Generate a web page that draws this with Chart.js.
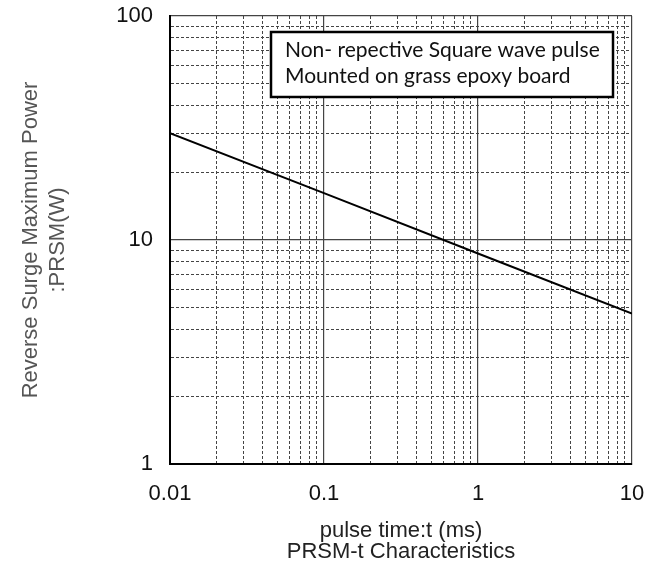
<!DOCTYPE html>
<html>
<head>
<meta charset="utf-8">
<script src="https://cdn.jsdelivr.net/npm/chart.js@4.4.0/dist/chart.umd.min.js"></script>
<style>
  html, body { margin: 0; padding: 0; background: #fff; }
  #wrap { width: 661px; height: 574px; }
</style>
</head>
<body>
<div id="wrap"><canvas id="prsm" width="661" height="574"></canvas></div>
<script>
// pulse time t (ms) and PRSM (W)
var pulseTime = [0.01, 0.1, 1, 10]
var prsmWatts = [30, 16.2, 8.7, 4.7]

// decade tick labels
var xTickLabels = [0.01, 0.1, 1, 10]
var yTickLabels = [1, 10, 100]

var noteLines = ['Non- repective Square wave pulse', 'Mounted on grass epoxy board']

var points = []
for (var i = 0; i < pulseTime.length; i++) {
  points.push({ x: pulseTime[i], y: prsmWatts[i] })
}

// 1..9 x 10^n between the first and last decade
function logTicks(decades) {
  var out = []
  for (var d = 0; d < decades.length - 1; d++) {
    for (var m = 1; m < 10; m++) {
      out.push({ value: +(decades[d] * m).toPrecision(3) })
    }
  }
  out.push({ value: decades[decades.length - 1] })
  return out
}

function isDecade(v, decades) {
  for (var k = 0; k < decades.length; k++) {
    if (Math.abs(v - decades[k]) < decades[k] * 1e-6) return true
  }
  return false
}

var noteBox = {
  id: 'noteBox',
  afterDraw: function (chart) {
    var ctx = chart.ctx
    var area = chart.chartArea
    var x = area.left + 101
    var y = area.top + 16
    var w = 342
    var h = 65
    ctx.save()
    ctx.fillStyle = '#fff'
    ctx.fillRect(x, y, w, h)
    ctx.lineWidth = 2.5
    ctx.strokeStyle = '#000'
    ctx.strokeRect(x, y, w, h)
    ctx.fillStyle = '#111'
    ctx.font = '21px Lato'
    ctx.textBaseline = 'alphabetic'
    ctx.fillText(noteLines[0], x + 14, y + 25)
    ctx.fillText(noteLines[1], x + 14, y + 51)
    ctx.restore()
  }
}

new Chart(document.getElementById('prsm'), {
  type: 'scatter',
  data: {
    datasets: [{
      data: points,
      showLine: true,
      borderColor: '#000',
      borderWidth: 2,
      pointRadius: 0,
      tension: 0
    }]
  },
  options: {
    responsive: false,
    animation: false,
    layout: { padding: { top: 16, right: 29, left: 0, bottom: 0 } },
    plugins: { legend: { display: false }, tooltip: { enabled: false } },
    scales: {
      x: {
        type: 'logarithmic',
        min: 0.01,
        max: 10,
        afterBuildTicks: function (scale) { scale.ticks = logTicks(xTickLabels) },
        afterFit: function (scale) {
          scale.height = 110
          scale.paddingLeft = 0
          scale.paddingRight = 0
        },
        ticks: {
          autoSkip: false,
          maxRotation: 0,
          padding: 17,
          color: '#111',
          font: { family: 'Liberation Sans', size: 22 },
          callback: function (v) { return isDecade(v, xTickLabels) ? String(v) : '' }
        },
        grid: {
          drawTicks: false,
          color: '#444',
          lineWidth: function (c) { return c.tick && isDecade(c.tick.value, xTickLabels) ? 1.2 : 1 }
        },
        border: {
          display: true,
          color: '#000',
          width: 2,
          dash: function (c) { return c.tick && isDecade(c.tick.value, xTickLabels) ? [] : [3, 2] }
        },
        title: {
          display: true,
          text: ['pulse time:t (ms)', 'PRSM-t Characteristics'],
          color: '#222',
          font: { family: 'Liberation Sans', size: 22, lineHeight: 0.98 },
          padding: { top: 0, bottom: 11 }
        }
      },
      y: {
        type: 'logarithmic',
        min: 1,
        max: 100,
        afterBuildTicks: function (scale) { scale.ticks = logTicks(yTickLabels) },
        afterFit: function (scale) {
          scale.width = 170
          scale.paddingTop = 0
          scale.paddingBottom = 0
        },
        ticks: {
          autoSkip: false,
          padding: 17,
          color: '#111',
          font: { family: 'Liberation Sans', size: 22 },
          callback: function (v) { return isDecade(v, yTickLabels) ? String(v) : '' }
        },
        grid: {
          drawTicks: false,
          color: '#444',
          lineWidth: function (c) { return c.tick && isDecade(c.tick.value, yTickLabels) ? 1.2 : 1 }
        },
        border: {
          display: true,
          color: '#000',
          width: 2,
          dash: function (c) { return c.tick && isDecade(c.tick.value, yTickLabels) ? [] : [3, 2] }
        },
        title: {
          display: true,
          text: ['Reverse Surge Maximum Power', ':PRSM(W)'],
          color: '#555',
          font: { family: 'Liberation Sans', size: 22, lineHeight: 1.25 },
          padding: { top: 17, bottom: 0 }
        }
      }
    }
  },
  plugins: [noteBox]
})
</script>
</body>
</html>
